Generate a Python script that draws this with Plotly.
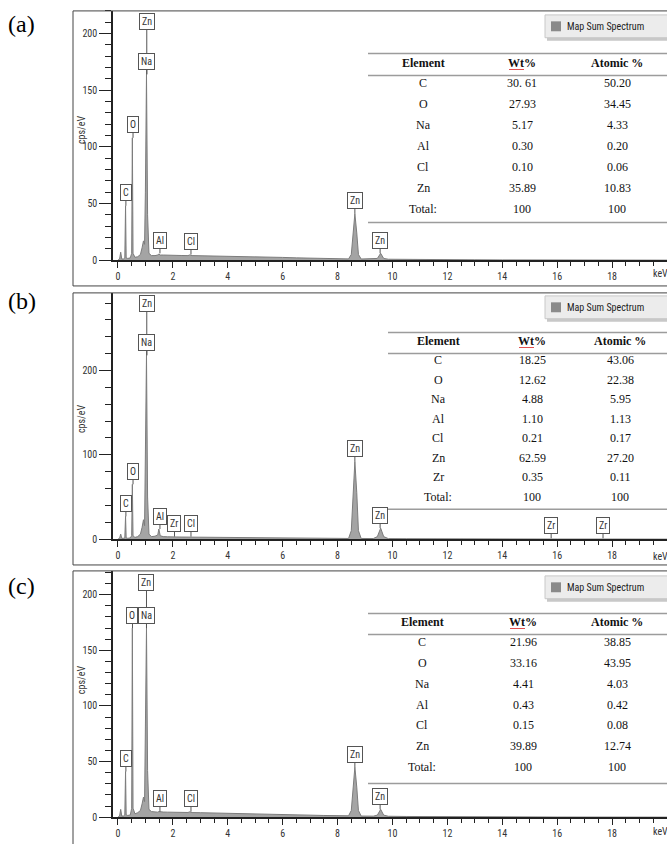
import plotly.graph_objects as go

W, H = 667, 844


def px(x):
    return x / W


def py(y):
    return 1 - y / H


# ---------------- data ----------------
energy_kev = [0.00, 0.06, 0.10, 0.14, 0.20, 0.25, 0.277, 0.30, 0.36, 0.45,
              0.50, 0.525, 0.55, 0.62, 0.72, 0.82, 0.88, 0.93, 0.97, 1.00,
              1.04, 1.08, 1.13, 1.22, 1.35, 1.45, 1.49, 1.54, 1.65, 1.80,
              1.95, 2.04, 2.12, 2.30, 2.55, 2.62, 2.70, 3.00, 3.50, 4.00,
              4.50, 5.00, 5.50, 6.00, 6.50, 7.00, 7.50, 8.00, 8.40, 8.50,
              8.56, 8.63, 8.70, 8.76, 8.86, 9.30, 9.45, 9.57, 9.68, 9.85,
              10.5, 11.0, 12.0, 13.0, 14.0, 16.0, 18.0, 20.0]

counts_a = [0, 1, 7, 1, 1, 2, 48, 2, 1.5, 2,
            6, 108, 6, 2.5, 3, 5, 11, 17, 14, 60,
            164, 40, 6, 4, 4, 4.5, 5.5, 4.5, 4.5, 4.3,
            4.2, 4.2, 4.1, 4.1, 4.0, 4.6, 4.0, 3.9, 3.7, 3.5,
            3.3, 3.0, 2.7, 2.4, 2.0, 1.7, 1.4, 1.2, 1.1, 5,
            24, 41, 24, 5, 1.0, 0.9, 1.5, 6, 1.5, 0.8,
            0.6, 0.5, 0.4, 0.3, 0.2, 0.1, 0.05, 0]

counts_b = [0, 1, 6, 1, 1, 1.5, 27, 1.5, 1, 1.5,
            4, 65, 4, 2, 3, 6, 14, 23, 16, 80,
            218, 50, 6, 3, 3.5, 5, 12, 4, 3, 2.8,
            2.8, 3.5, 2.6, 2.5, 2.4, 3.2, 2.3, 2.2, 2.0, 1.9,
            1.8, 1.6, 1.5, 1.3, 1.2, 1.0, 0.9, 0.8, 0.8, 10,
            55, 92, 55, 10, 0.8, 0.7, 3, 13, 3, 0.6,
            0.5, 0.4, 0.3, 0.3, 0.2, 0.1, 0.1, 0]

counts_c = [0, 1, 7, 1, 1, 2, 41, 2, 1.5, 2,
            8, 170, 8, 3, 4, 6, 12, 18, 14, 62,
            170, 42, 7, 5, 4.5, 4.5, 5, 4.8, 4.6, 4.5,
            4.4, 4.4, 4.3, 4.3, 4.2, 4.8, 4.1, 4.0, 3.8, 3.6,
            3.3, 3.0, 2.7, 2.4, 2.1, 1.8, 1.5, 1.3, 1.2, 6,
            27, 45, 27, 6, 1.0, 0.9, 1.8, 7, 1.8, 0.8,
            0.6, 0.5, 0.4, 0.3, 0.2, 0.1, 0.05, 0]

# peak labels (element, energy of tip, height of tip)
peak_el_a = ["C", "O", "Na", "Al", "Cl", "Zn", "Zn"]
peak_kev_a = [0.29, 0.55, 1.05, 1.53, 2.66, 8.63, 9.55]
peak_cps_a = [48, 108, 164, 6, 5, 41, 6]
zn_top_a = 211

peak_el_b = ["C", "O", "Na", "Al", "Zr", "Cl", "Zn", "Zn", "Zr", "Zr"]
peak_kev_b = [0.29, 0.55, 1.05, 1.53, 2.06, 2.66, 8.63, 9.55, 15.78, 17.67]
peak_cps_b = [27, 65, 218, 12, 3, 3, 92, 13, 1, 1]
zn_top_b = 280

peak_el_c = ["C", "O", "Na", "Al", "Cl", "Zn", "Zn"]
peak_kev_c = [0.29, 0.53, 1.04, 1.53, 2.66, 8.63, 9.55]
peak_cps_c = [41, 170, 170, 5, 5, 45, 7]
zn_top_c = 211

# composition tables
table_header = ["Element", "Wt%", "Atomic %"]
table_el_a = ["C", "O", "Na", "Al", "Cl", "Zn", "Total:"]
table_wt_a = ["30. 61", "27.93", "5.17", "0.30", "0.10", "35.89", "100"]
table_at_a = ["50.20", "34.45", "4.33", "0.20", "0.06", "10.83", "100"]

table_el_b = ["C", "O", "Na", "Al", "Cl", "Zn", "Zr", "Total:"]
table_wt_b = ["18.25", "12.62", "4.88", "1.10", "0.21", "62.59", "0.35", "100"]
table_at_b = ["43.06", "22.38", "5.95", "1.13", "0.17", "27.20", "0.11", "100"]

table_el_c = ["C", "O", "Na", "Al", "Cl", "Zn", "Total:"]
table_wt_c = ["21.96", "33.16", "4.41", "0.43", "0.15", "39.89", "100"]
table_at_c = ["38.85", "43.95", "4.03", "0.42", "0.08", "12.74", "100"]

x_ticks = [0, 2, 4, 6, 8, 10, 12, 14, 16, 18]
panel_letters = ["(a)", "(b)", "(c)"]
legend_text = "Map Sum Spectrum"
y_title = "cps/eV"

# ---------------- layout geometry (pixels) ----------------
panels = [
    dict(counts=counts_a, el=peak_el_a, kev=peak_kev_a, cps=peak_cps_a, zn=zn_top_a,
         tel=table_el_a, twt=table_wt_a, tat=table_at_a,
         box_top=11, box_bot=288, axis0=262, ytop=220, ymajor=50, yminor=10,
         letter_y=24, title_y=131, t_x0=368, t_top=54, t_head=63, t_hline=76,
         t_row0=84, t_step=21, t_bot=224, cols=[423, 522, 617],
         leg_y0=15, leg_y1=38, kev_y=275),
    dict(counts=counts_b, el=peak_el_b, kev=peak_kev_b, cps=peak_cps_b, zn=zn_top_b,
         tel=table_el_b, twt=table_wt_b, tat=table_at_b,
         box_top=295, box_bot=569, axis0=543, ytop=292, ymajor=100, yminor=20,
         letter_y=303, title_y=422, t_x0=388, t_top=335, t_head=343, t_hline=356,
         t_row0=363, t_step=19.6, t_bot=513, cols=[438, 532, 620],
         leg_y0=298, leg_y1=321, kev_y=560),
    dict(counts=counts_c, el=peak_el_c, kev=peak_kev_c, cps=peak_cps_c, zn=zn_top_c,
         tel=table_el_c, twt=table_wt_c, tat=table_at_c,
         box_top=575, box_bot=860, axis0=823, ytop=221.4, ymajor=50, yminor=10,
         letter_y=590, title_y=685, t_x0=368, t_top=618, t_head=626, t_hline=639,
         t_row0=647, t_step=20.9, t_bot=789, cols=[422, 523, 617],
         leg_y0=580, leg_y1=603, kev_y=837),
]

NARROW = "Liberation Sans Narrow, Roboto Condensed, Liberation Sans, Noto Sans"
SERIF = "Liberation Serif"

fig = go.Figure()
shapes = []
annotations = []
layout_axes = {}


def paper_text(x, y, text, font, xanchor="center", yanchor="middle", **kw):
    d = dict(x=px(x), y=py(y), xref="paper", yref="paper", showarrow=False,
             xanchor=xanchor, yanchor=yanchor, text=text, font=font)
    d.update(kw)
    return d


for i, p in enumerate(panels):
    n = i + 1
    xr = "x" if n == 1 else f"x{n}"
    yr = "y" if n == 1 else f"y{n}"
    xkey = "xaxis" if n == 1 else f"xaxis{n}"
    ykey = "yaxis" if n == 1 else f"yaxis{n}"

    fig.add_trace(go.Scatter(
        x=energy_kev, y=p["counts"], mode="lines", fill="tozeroy",
        fillcolor="#a4a4a4", line=dict(color="#7c7c7c", width=1),
        xaxis=xr, yaxis=yr, hoverinfo="skip", showlegend=False))

    layout_axes[xkey] = dict(
        domain=[px(113), 1.0], range=[-0.18, 20.0], anchor=yr,
        tickmode="array", tickvals=x_ticks, ticks="outside", ticklen=6,
        tickwidth=1.3, tickcolor="#222",
        minor=dict(dtick=0.5, tick0=0, ticks="outside", ticklen=4,
                   tickwidth=1, tickcolor="#222"),
        showline=True, linecolor="#222", linewidth=2,
        showgrid=False, zeroline=False, fixedrange=True,
        tickfont=dict(family=NARROW, size=10, color="#333"))
    layout_axes[ykey] = dict(
        domain=[py(p["axis0"]), py(p["box_top"])], range=[0, p["ytop"]],
        anchor=xr, dtick=p["ymajor"], tick0=0, ticks="outside", ticklen=12,
        tickwidth=1.3, tickcolor="#222",
        minor=dict(dtick=p["yminor"], tick0=0, ticks="outside", ticklen=6,
                   tickwidth=1, tickcolor="#222"),
        showline=True, linecolor="#222", linewidth=1.5,
        showgrid=False, zeroline=False, fixedrange=True,
        tickfont=dict(family=NARROW, size=10, color="#333"))

    # panel frame
    shapes.append(dict(type="rect", xref="paper", yref="paper",
                       x0=px(73), x1=px(680), y0=py(p["box_bot"]), y1=py(p["box_top"]),
                       line=dict(color="#444", width=1)))

    # panel letter
    annotations.append(paper_text(6, p["letter_y"], panel_letters[i],
                                  dict(family=SERIF, size=24, color="black"),
                                  xanchor="left"))
    # y title
    annotations.append(paper_text(81, p["title_y"], y_title,
                                  dict(family=NARROW, size=10, color="#333"),
                                  textangle=-90))
    # keV label
    annotations.append(paper_text(651, p["kev_y"], "keV",
                                  dict(family=NARROW, size=10, color="#333"),
                                  xanchor="left"))

    # top Zn label with leader line to the Na peak
    na_idx = p["el"].index("Na")
    annotations.append(dict(
        x=p["kev"][na_idx], y=p["cps"][na_idx], xref=xr, yref=yr,
        ax=p["kev"][na_idx], ay=p["zn"], axref=xr, ayref=yr,
        text="Zn", showarrow=True, arrowhead=0, arrowwidth=1, arrowcolor="#555",
        bgcolor="white", bordercolor="#555", borderwidth=1, borderpad=2,
        font=dict(family=NARROW, size=10, color="#333")))
    # peak labels
    for el, kv, cp in zip(p["el"], p["kev"], p["cps"]):
        annotations.append(dict(
            x=kv, y=cp, xref=xr, yref=yr, ax=0, ay=-13,
            text=el, showarrow=True, arrowhead=0, arrowwidth=1, arrowcolor="#555",
            bgcolor="white", bordercolor="#555", borderwidth=1, borderpad=2,
            font=dict(family=NARROW, size=10, color="#333")))

    # legend box "Map Sum Spectrum"
    shapes.append(dict(type="rect", xref="paper", yref="paper",
                       x0=px(547), x1=px(672), y0=py(p["leg_y1"] + 3), y1=py(p["leg_y1"] - 3),
                       fillcolor="#9a9a9a", line=dict(width=0), opacity=0.55))
    shapes.append(dict(type="rect", xref="paper", yref="paper",
                       x0=px(545), x1=px(672), y0=py(p["leg_y1"]), y1=py(p["leg_y0"]),
                       fillcolor="#ececec", line=dict(color="#c8c8c8", width=1)))
    ymid = (p["leg_y0"] + p["leg_y1"]) / 2
    shapes.append(dict(type="rect", xref="paper", yref="paper",
                       x0=px(551), x1=px(561), y0=py(ymid + 5), y1=py(ymid - 5),
                       fillcolor="#8a8a8a", line=dict(width=0)))
    annotations.append(paper_text(565, ymid, legend_text,
                                  dict(family=NARROW, size=10, color="#222"),
                                  xanchor="left"))

    # table lines
    for yy in (p["t_top"], p["t_hline"], p["t_bot"]):
        shapes.append(dict(type="line", xref="paper", yref="paper",
                           x0=px(p["t_x0"]), x1=px(667), y0=py(yy), y1=py(yy),
                           line=dict(color="#9c9c9c", width=1.5)))
    # red spell-check underline under "Wt"
    shapes.append(dict(type="line", xref="paper", yref="paper",
                       x0=px(p["cols"][1] - 13), x1=px(p["cols"][1] + 2),
                       y0=py(p["t_head"] + 7), y1=py(p["t_head"] + 7),
                       line=dict(color="#e05050", width=1)))
    # table header
    for c, txt in zip(p["cols"], table_header):
        annotations.append(paper_text(c, p["t_head"], f"<b>{txt}</b>",
                                      dict(family=SERIF, size=12, color="#111")))
    # table rows
    for r, (e, w, a) in enumerate(zip(p["tel"], p["twt"], p["tat"])):
        yy = p["t_row0"] + r * p["t_step"]
        for c, txt in zip(p["cols"], (e, w, a)):
            annotations.append(paper_text(c, yy, txt,
                                          dict(family=SERIF, size=12, color="#111")))

fig.update_layout(
    width=W, height=H, margin=dict(l=0, r=0, t=0, b=0),
    paper_bgcolor="white", plot_bgcolor="white",
    shapes=shapes, annotations=annotations, showlegend=False,
    **layout_axes)

fig.write_html("out.html", config={"displayModeBar": False},
               post_script="document.body.style.margin='0';")
